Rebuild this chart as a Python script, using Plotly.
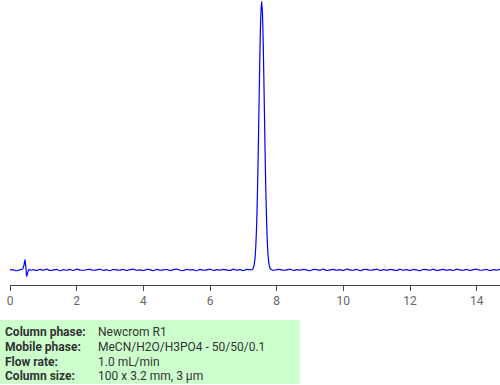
import plotly.graph_objects as go

# ---- data ----
start_times = [0.0, 0.1, 0.2, 0.3, 0.38, 0.42, 0.45, 0.48, 0.50, 0.53, 0.57, 0.62]
start_values = [0.1, 0.0, -0.3, 0.1, 0.3, 1.8, 3.9, 0.5, -2.4, -1.0, 0.2, -0.1]

noise_a_start = 0.7
noise_a = [0.1, -0.2, 0.2, -0.1, 0.3, -0.2, 0.0, 0.2, -0.3, 0.1,
           -0.1, 0.2, -0.2, 0.3, 0.0, -0.2, 0.1, 0.2, -0.1, 0.0,
           0.3, -0.2, 0.1, -0.3, 0.2, 0.0, -0.1, 0.2, -0.2, 0.1,
           0.3, -0.1, 0.0, -0.2, 0.2, 0.1, -0.3, 0.2, -0.1, 0.0,
           0.2, -0.2, 0.1, 0.3, -0.1, -0.2, 0.2, 0.0, 0.1, -0.3,
           0.2, -0.1, 0.0, 0.3, -0.2, 0.1, -0.1, 0.2, 0.0, -0.2,
           0.3, -0.1, 0.1, -0.2, 0.2]

peak_times = [7.25, 7.275, 7.3, 7.325, 7.35, 7.375, 7.4, 7.425, 7.45, 7.475, 7.5, 7.525,
              7.55, 7.575, 7.6, 7.625, 7.65, 7.675, 7.7, 7.725, 7.75, 7.775, 7.8, 7.825, 7.85]
peak_values = [0.09, 0.27, 0.76, 1.9, 4.4, 9.1, 17.2, 29.5, 45.8, 64.5, 82.3, 95.2,
               100.0, 95.2, 82.3, 64.5, 45.8, 29.5, 17.2, 9.1, 4.4, 1.9, 0.76, 0.27, 0.09]

noise_b_start = 7.9
noise_b = [-0.2, 0.1, 0.2, -0.1, 0.0, 0.3, -0.2, 0.1, -0.1, 0.2,
           0.0, -0.3, 0.2, 0.1, -0.1, 0.3, -0.2, 0.0, 0.2, -0.1,
           0.1, -0.2, 0.3, 0.0, -0.1, 0.2, -0.3, 0.1, 0.2, -0.1,
           0.0, 0.3, -0.2, 0.1, -0.1, 0.2, 0.0, -0.2, 0.3, -0.1,
           0.1, -0.2, 0.2, 0.0, -0.3, 0.2, 0.1, -0.1, 0.3, -0.2,
           0.0, 0.2, -0.1, 0.1, -0.2, 0.3, 0.0, -0.1, 0.2, -0.2,
           0.1, 0.3, -0.1, 0.0, 0.2, -0.2, 0.1, -0.1, 0.2]

x_ticks = [0, 2, 4, 6, 8, 10, 12, 14]

info_labels = ["Column phase:", "Mobile phase:", "Flow rate:", "Column size:"]
info_values = ["Newcrom R1", "MeCN/H2O/H3PO4 - 50/50/0.1", "1.0 mL/min", "100 x 3.2 mm, 3 µm"]

# ---- assemble trace ----
times = list(start_times)
values = list(start_values)
times += [round(noise_a_start + 0.1 * i, 3) for i in range(len(noise_a))]
values += noise_a
times += peak_times
values += peak_values
times += [round(noise_b_start + 0.1 * i, 3) for i in range(len(noise_b))]
values += noise_b

W, H = 500, 385
ml, mr, mt, mb = 10, 0, 0, 100
pw = W - ml - mr
ph = H - mt - mb

fig = go.Figure()
fig.add_trace(go.Scatter(x=times, y=values, mode="lines",
                         line=dict(color="#0000ff", width=1.2, shape="spline", smoothing=0.6),
                         hoverinfo="skip", showlegend=False))

fig.update_layout(
    width=W, height=H,
    margin=dict(l=ml, r=mr, t=mt, b=mb),
    paper_bgcolor="white", plot_bgcolor="white",
    font=dict(family="Roboto", size=12, color="#555"),
    xaxis=dict(range=[0, 14.7], tickvals=x_ticks, ticks="outside", ticklen=5,
               tickcolor="#444", showline=True, linecolor="#444", linewidth=1,
               showgrid=False, zeroline=False, tickfont=dict(size=12, color="#666")),
    yaxis=dict(range=[-5.6, 100.5], visible=False, showgrid=False, zeroline=False),
)

# info box
def px_x(p):
    return (p - ml) / pw

def px_y(p):
    return (H - mb - p) / ph

fig.add_shape(type="rect", xref="paper", yref="paper",
              x0=px_x(0), x1=px_x(300), y0=px_y(320), y1=px_y(384),
              fillcolor="#ccffcc", line=dict(width=0), layer="below")

row_y = [331.5, 346.5, 361.5, 376.5]
for lab, val, ry in zip(info_labels, info_values, row_y):
    fig.add_annotation(xref="paper", yref="paper", x=px_x(4), y=px_y(ry),
                       text="<b>" + lab + "</b>", showarrow=False, xanchor="left", yanchor="middle",
                       borderpad=0, font=dict(family="Roboto", size=12, color="#333"))
    fig.add_annotation(xref="paper", yref="paper", x=px_x(97), y=px_y(ry),
                       text=val, showarrow=False, xanchor="left", yanchor="middle",
                       borderpad=0, font=dict(family="Roboto", size=12, color="#333"))

fig.write_html("out.html")
